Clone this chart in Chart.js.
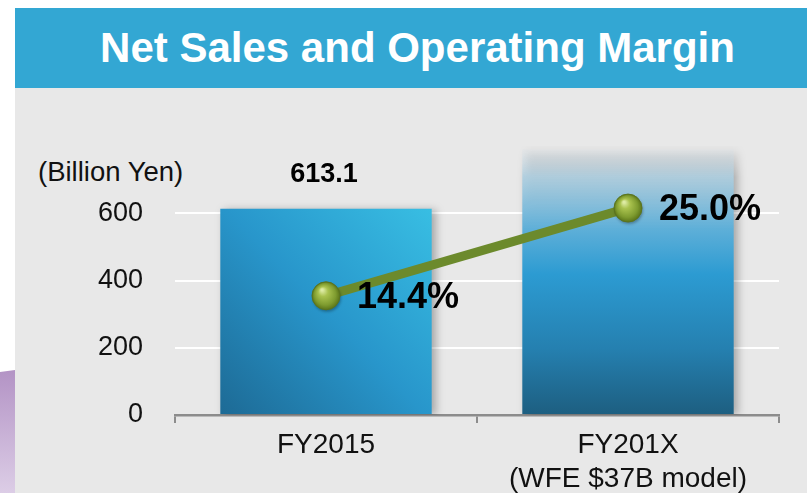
<!DOCTYPE html>
<html>
<head>
<meta charset="utf-8">
<script src="https://cdn.jsdelivr.net/npm/chart.js@4/dist/chart.umd.min.js"></script>
<style>
  html, body { margin: 0; padding: 0; background: #ffffff; }
  #wrap { position: relative; width: 807px; height: 493px; overflow: hidden; font-family: 'Liberation Sans', Arial, sans-serif; }
  #header { position: absolute; left: 15px; top: 8px; width: 792px; height: 80px; background: #33A7D3; }
  #title { position: absolute; left: 15px; top: 8px; width: 792px; height: 80px; line-height: 80px; padding-left: 13px; box-sizing: border-box;
           text-align: center; color: #ffffff; font-weight: bold; font-size: 42px; white-space: nowrap; }
  #panel { position: absolute; left: 15px; top: 88px; width: 792px; height: 405px; background: #E8E8E8; }
  #purple { position: absolute; left: 0; top: 370px; width: 15px; height: 123px;
            background: linear-gradient(to bottom, #B393C5, #DCCDE6); clip-path: polygon(0 2px, 100% 0, 100% 100%, 0 100%); }
  #unit { position: absolute; left: 38px; top: 158px; font-size: 27.5px; line-height: 28px; color: #111; white-space: nowrap; }
  #c { position: absolute; left: 0; top: 0; }
</style>
</head>
<body>
<div id="wrap">
  <div id="header"></div>
  <div id="title">Net Sales and Operating Margin</div>
  <div id="panel"></div>
  <div id="purple"></div>
  <div id="unit">(Billion Yen)</div>
  <canvas id="c" width="807" height="493"></canvas>
</div>
<script>
// ---- data ----
const categories = ['FY2015', ['FY201X', '(WFE $37B model)']];
const netSales = [613.1, 790];
const opMargin = [14.4, 25.0];
const salesLabels = ['613.1', ''];
const marginLabels = ['14.4%', '25.0%'];
const yTickValues = [0, 200, 400, 600];

const FONT = "'Liberation Sans', Arial, sans-serif";

function barColor(context) {
  const chart = context.chart;
  const area = chart.chartArea;
  if (!area) return '#2A9ACF';
  const c = chart.ctx;
  const xs = chart.scales.x, ys = chart.scales.y;
  const i = context.dataIndex;
  const cx = xs.getPixelForValue(i);
  const half = xs.width / categories.length * 0.35;
  const top = ys.getPixelForValue(netSales[i]);
  const bottom = ys.getPixelForValue(0);
  let g;
  if (i === 0) {
    g = c.createLinearGradient(cx - half, bottom, cx + half, top);
    g.addColorStop(0, '#1D6A95');
    g.addColorStop(0.5, '#2896CB');
    g.addColorStop(1, '#38BEE3');
  } else {
    g = c.createLinearGradient(0, top, 0, bottom);
    g.addColorStop(0, 'rgba(215,225,232,0.2)');
    g.addColorStop(0.1, 'rgba(175,207,224,0.9)');
    g.addColorStop(0.3, '#5EAFD8');
    g.addColorStop(0.47, '#2C9BD2');
    g.addColorStop(0.75, '#2580B0');
    g.addColorStop(1, '#1D5E80');
  }
  return g;
}

const decor = {
  id: 'decor',
  beforeDatasetDraw(chart, args) {
    if (args.meta.type === 'bar') {
      const c = chart.ctx;
      c.save();
      c.shadowColor = 'rgba(0,0,0,0.28)';
      c.shadowBlur = 8;
      c.shadowOffsetX = 4;
      c.shadowOffsetY = 1;
    }
  },
  afterDatasetDraw(chart, args) {
    if (args.meta.type === 'bar') chart.ctx.restore();
  },
  afterDatasetsDraw(chart) {
    const c = chart.ctx;
    const lm = chart.getDatasetMeta(0);
    lm.data.forEach((pt, i) => {
      const x = pt.x, y = pt.y, r = 14;
      c.save();
      c.shadowColor = 'rgba(0,0,0,0.3)';
      c.shadowBlur = 3;
      c.shadowOffsetX = 1;
      c.shadowOffsetY = 2;
      const g = c.createRadialGradient(x - 4, y - 6, 1, x, y, r);
      g.addColorStop(0, '#DDEBA3');
      g.addColorStop(0.3, '#A9C24E');
      g.addColorStop(0.75, '#7E9B2F');
      g.addColorStop(1, '#5B7519');
      c.beginPath();
      c.arc(x, y, r, 0, Math.PI * 2);
      c.fillStyle = g;
      c.fill();
      c.restore();
      c.save();
      c.beginPath();
      c.arc(x, y, r, 0, Math.PI * 2);
      c.strokeStyle = '#5A7420';
      c.lineWidth = 1;
      c.stroke();
      c.fillStyle = '#000';
      c.font = 'bold 36px ' + FONT;
      c.textAlign = 'left';
      c.textBaseline = 'middle';
      c.fillText(marginLabels[i], x + 31, y + 2);
      c.restore();
    });
    const bm = chart.getDatasetMeta(1);
    bm.data.forEach((bar, i) => {
      if (!salesLabels[i]) return;
      c.save();
      c.fillStyle = '#000';
      c.font = 'bold 27px ' + FONT;
      c.textAlign = 'center';
      c.textBaseline = 'middle';
      c.fillText(salesLabels[i], bar.x - 2, bar.y - 34);
      c.restore();
    });
  }
};

new Chart(document.getElementById('c'), {
  data: {
    labels: categories,
    datasets: [
      {
        type: 'line',
        data: opMargin,
        yAxisID: 'y2',
        borderColor: '#6C8A2C',
        borderWidth: 9,
        pointRadius: 0,
        pointHoverRadius: 0,
        tension: 0,
        order: 0
      },
      {
        type: 'bar',
        data: netSales,
        yAxisID: 'y',
        backgroundColor: barColor,
        borderWidth: 0,
        barPercentage: 0.7,
        categoryPercentage: 1.0,
        order: 1
      }
    ]
  },
  options: {
    responsive: false,
    animation: false,
    layout: { padding: { left: 0, right: 28, top: 146, bottom: 0 } },
    plugins: { legend: { display: false }, tooltip: { enabled: false } },
    scales: {
      x: {
        offset: true,
        grid: { display: true, drawOnChartArea: false, drawTicks: true, tickLength: 8, color: '#8C8C8C', lineWidth: 2, offset: true },
        border: { display: true, color: '#8C8C8C', width: 2.5 },
        ticks: { color: '#111', font: { family: FONT, size: 28, lineHeight: 1.22 }, padding: 5, maxRotation: 0, autoSkip: false },
        afterFit(scale) { scale.height = 78; }
      },
      y: {
        position: 'left',
        min: 0,
        max: 800,
        ticks: { stepSize: 200, color: '#111', font: { family: FONT, size: 27 }, padding: 32 },
        grid: { color: '#FFFFFF', lineWidth: 2, drawTicks: false },
        border: { display: false },
        afterBuildTicks(scale) { scale.ticks = yTickValues.map(v => ({ value: v })); },
        afterFit(scale) { scale.width = 175; }
      },
      y2: {
        display: false,
        min: 0,
        max: 32.5
      }
    }
  },
  plugins: [decor]
});
</script>
</body>
</html>
